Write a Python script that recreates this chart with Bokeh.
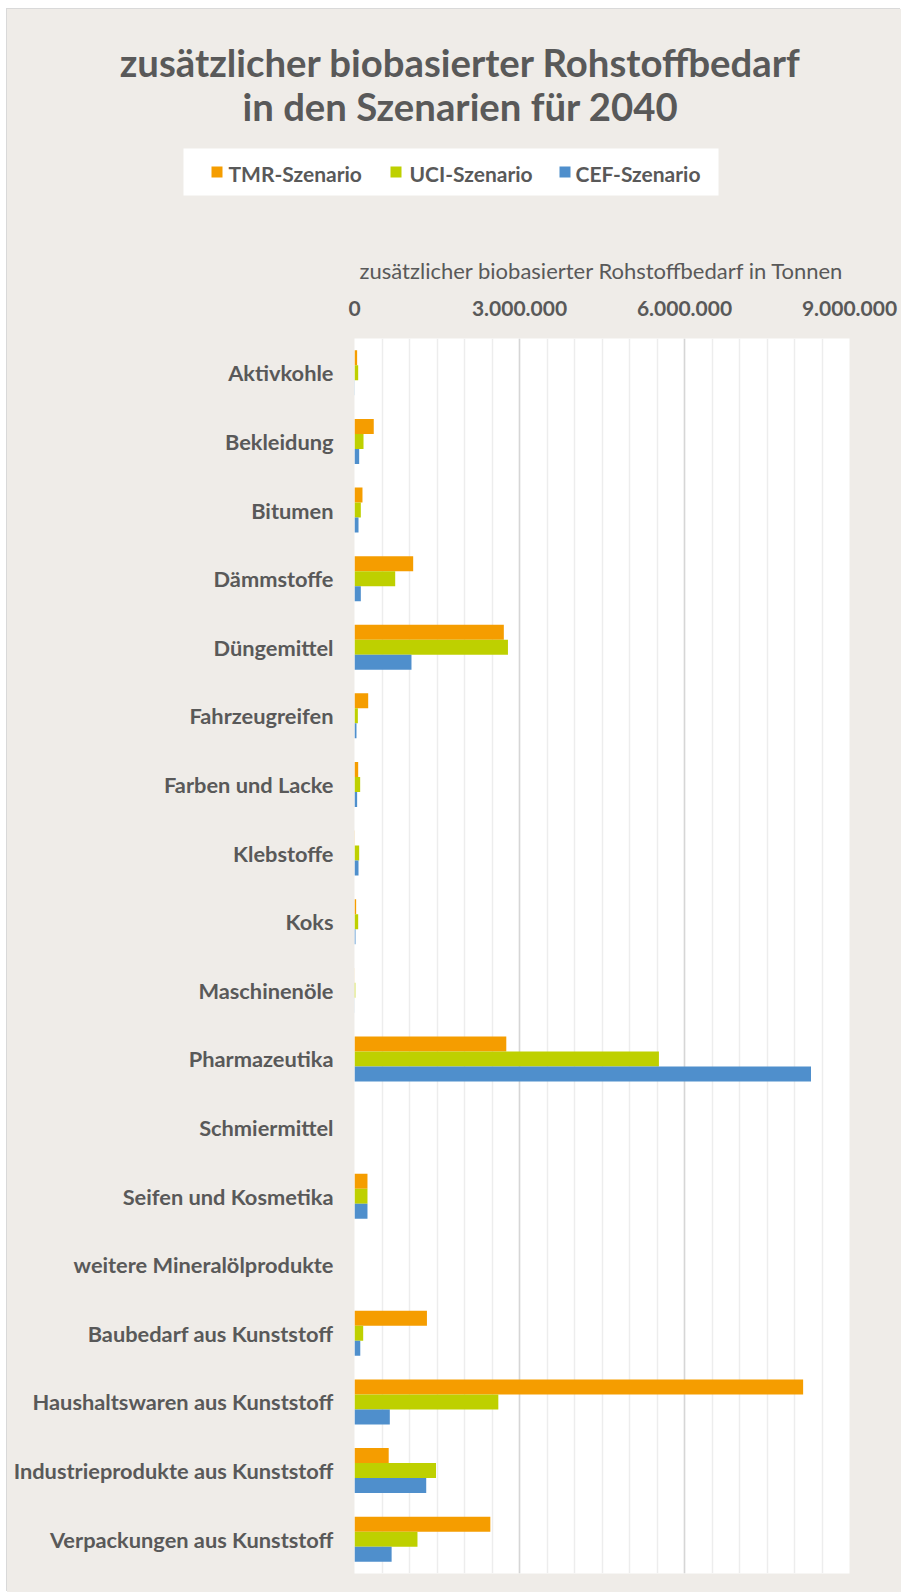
from bokeh.plotting import figure
from bokeh.layouts import column
from bokeh.models import Range1d, FixedTicker, Label, ColumnDataSource
from bokeh.transform import dodge
from bokeh.embed import file_html
from bokeh.resources import INLINE
from bokeh.core.properties import value

# ---------------- data ----------------
categories = [
    "Aktivkohle", "Bekleidung", "Bitumen", "Dämmstoffe", "Düngemittel",
    "Fahrzeugreifen", "Farben und Lacke", "Klebstoffe", "Koks", "Maschinenöle",
    "Pharmazeutika", "Schmiermittel", "Seifen und Kosmetika",
    "weitere Mineralölprodukte", "Baubedarf aus Kunststoff",
    "Haushaltswaren aus Kunststoff", "Industrieprodukte aus Kunststoff",
    "Verpackungen aus Kunststoff",
]
tmr = [48000, 350000, 145000, 1067000, 2715000, 249000, 67000, 4000, 30000, 2000,
       2760000, 0, 236000, 0, 1317000, 8157000, 622000, 2470000]
uci = [67000, 164000, 115000, 740000, 2790000, 61000, 103000, 85000, 67000, 15000,
       5535000, 0, 236000, 0, 158000, 2615000, 1482000, 1145000]
cef = [4000, 85000, 73000, 115000, 1036000, 36000, 48000, 73000, 18000, 2000,
       8300000, 0, 236000, 0, 105000, 642000, 1304000, 675000]
series = ["TMR-Szenario", "UCI-Szenario", "CEF-Szenario"]
x_ticks = [0, 3000000, 6000000, 9000000]
x_tick_labels = ["0", "3.000.000", "6.000.000", "9.000.000"]
title_lines = ["zusätzlicher biobasierter Rohstoffbedarf", "in den Szenarien für 2040"]
x_title = "zusätzlicher biobasierter Rohstoffbedarf in Tonnen"

# ---------------- style / layout ----------------
COLORS = ["#F59D00", "#BED000", "#4F8FCC"]
TEXT = "#595959"
BEIGE = "#EFECE8"
FONT = "Lato"

OFF_X, OFF_Y = 7, 9           # page offset of the beige chart area
W = 901 - OFF_X
SPLIT = 230                   # page y where header ends and chart figure starts
H1 = SPLIT - OFF_Y
H2 = 1592 - SPLIT
FL, FR, FT, FB = 354, 849, 338, 1573   # plot frame in page px
XMAX = 9000000
NCAT = len(categories)

# ---------------- header (title + legend) ----------------
hdr = figure(
    width=W, height=H1, x_range=Range1d(0, W), y_range=Range1d(H1, 0),
    x_axis_type=None, y_axis_type=None,
    output_backend="svg", toolbar_location=None,
    min_border_left=0, min_border_right=0, min_border_top=0, min_border_bottom=0,
)
hdr.frame_align = False
hdr.background_fill_color = BEIGE
hdr.border_fill_color = BEIGE
hdr.outline_line_color = None
hdr.xgrid.grid_line_color = None
hdr.ygrid.grid_line_color = None

for line, ty in zip(title_lines, [61, 105]):
    hdr.add_layout(Label(
        x=460 - OFF_X, y=ty - OFF_Y, text=line,
        text_align="center", text_baseline="middle",
        text_font=FONT, text_font_style="bold", text_font_size="38.3px",
        text_color=TEXT,
    ))

# legend box
LEG_L, LEG_R, LEG_T, LEG_B = 183, 718, 148, 195
leg_cy = (LEG_T + LEG_B) / 2 - OFF_Y
hdr.rect(x=[(LEG_L + LEG_R) / 2 - OFF_X], y=[leg_cy], width=LEG_R - LEG_L,
         height=LEG_B - LEG_T, fill_color="white", line_color=None)
sq_x = [216.5 - OFF_X, 395.5 - OFF_X, 564.5 - OFF_X]
tx_x = [228 - OFF_X, 409 - OFF_X, 575 - OFF_X]
hdr.rect(x=sq_x, y=[leg_cy] * 3, width=11, height=11,
         fill_color=COLORS, line_color=None)
hdr.text(x=tx_x, y=[leg_cy + 1] * 3, text=series,
         text_font=value(FONT), text_font_style="bold", text_font_size="21px",
         text_color=TEXT, text_align="left", text_baseline="middle")

# ---------------- main chart ----------------
pos = [i + 0.5 for i in range(NCAT)]
src = ColumnDataSource(dict(pos=pos, tmr=tmr, uci=uci, cef=cef))

p = figure(
    width=W, height=H2,
    x_range=Range1d(0, XMAX), y_range=Range1d(NCAT, 0),
    x_axis_location="above",
    output_backend="svg", toolbar_location=None,
    min_border_left=FL - OFF_X, min_border_right=(OFF_X + W) - FR,
    min_border_top=FT - SPLIT, min_border_bottom=1592 - FB,
)
p.frame_align = False
p.background_fill_color = "white"
p.border_fill_color = BEIGE
p.outline_line_color = None

bar_h = 0.2186
for k, (col, fc) in enumerate(zip(["tmr", "uci", "cef"], COLORS)):
    p.hbar(y=dodge("pos", (k - 1) * bar_h), left=0, right=col, height=bar_h,
           fill_color=fc, line_color=None, source=src)

# x axis (top)
xt = FixedTicker(ticks=x_ticks, minor_ticks=list(range(0, XMAX + 1, 500000)))
xa = p.xaxis[0]
xa.ticker = xt
xa.major_label_overrides = dict(zip(x_ticks, x_tick_labels))
xa.axis_label = x_title
xa.axis_label_text_font = FONT
xa.axis_label_text_font_style = "normal"
xa.axis_label_text_font_size = "22px"
xa.axis_label_text_color = TEXT
xa.axis_label_standoff = 14
xa.major_label_text_font = FONT
xa.major_label_text_font_style = "bold"
xa.major_label_text_font_size = "21px"
xa.major_label_text_color = TEXT
xa.major_label_standoff = 17
xa.axis_line_color = None
xa.major_tick_line_color = None
xa.minor_tick_line_color = None

p.xgrid.ticker = xt
p.xgrid.grid_line_color = "#D6D6D6"
p.xgrid.grid_line_width = 1.5
p.xgrid.minor_grid_line_color = "#EDEDED"
p.xgrid.minor_grid_line_width = 1.5
p.ygrid.grid_line_color = None

# y axis (categories)
ya = p.yaxis[0]
ya.ticker = FixedTicker(ticks=pos)
ya.major_label_overrides = dict(zip(pos, categories))
ya.major_label_text_font = FONT
ya.major_label_text_font_style = "bold"
ya.major_label_text_font_size = "21.8px"
ya.major_label_text_color = TEXT
ya.major_label_standoff = 15
ya.axis_line_color = None
ya.major_tick_line_color = None
ya.minor_tick_line_color = None

layout = column(hdr, p, spacing=0)
layout.margin = (OFF_Y, 0, 0, OFF_X)
layout.styles = {"background-color": BEIGE, "box-shadow": "-1px -1px 0 0 #D9D9D9"}

open("out.html", "w").write(file_html(layout, INLINE))
